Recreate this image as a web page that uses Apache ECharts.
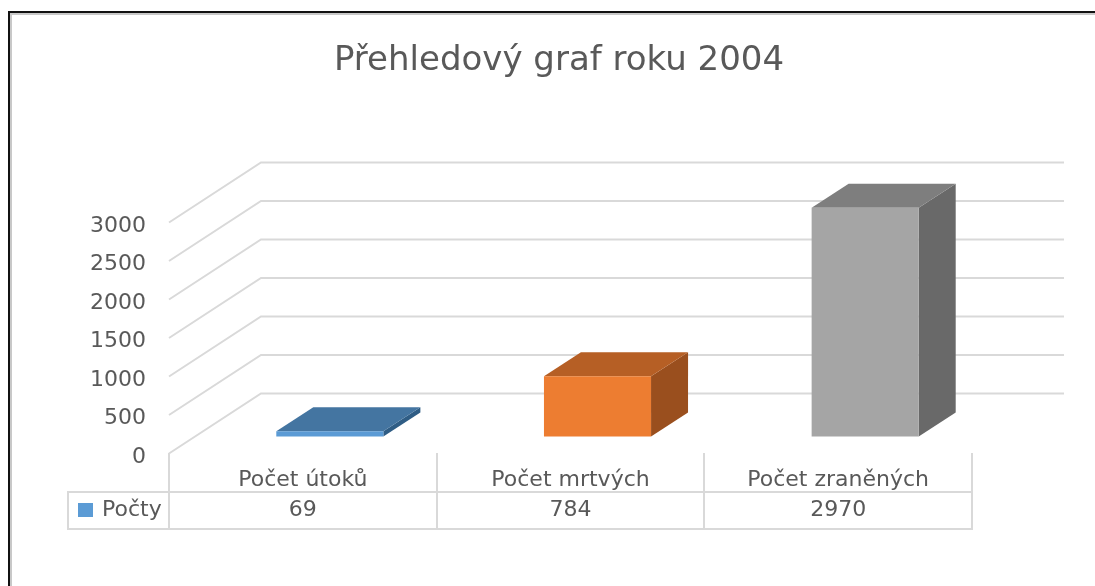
<!DOCTYPE html>
<html>
<head>
<meta charset="utf-8">
<style>
    html, body { margin: 0; padding: 0; background: #fff; }
    #chart { width: 1095px; height: 586px; }
</style>
<script src="https://cdn.jsdelivr.net/npm/echarts@6/dist/echarts.min.js"></script>
</head>
<body>
<div id="chart"></div>
<script>
const chartTitle = "Přehledový graf roku 2004";
const seriesName = "Počty";
const categories = ["Počet útoků", "Počet mrtvých", "Počet zraněných"];
const values = [69, 784, 2970];
const yTicks = [0, 500, 1000, 1500, 2000, 2500, 3000];

const textColor = "#595959";
const lineColor = "#d9d9d9";
const fontFamily = "'DejaVu Sans', sans-serif";
// front, top, side
const barColors = [
    ["#5b9bd5", "#4475a1", "#2f5d85"],
    ["#ed7d31", "#b65f25", "#9a4f1e"],
    ["#a5a5a5", "#7e7e7e", "#696969"]
];

// perspective offsets in px
const wallDepth = [92, -60];
const barOffset = [27, -17];
const barDepth = [37, -24];

function tableLine(x1, y1, x2, y2) {
    return {
        type: "line",
        silent: true,
        shape: { x1, y1, x2, y2 },
        style: { stroke: lineColor, lineWidth: 2 }
    };
}

const chart = echarts.init(document.getElementById("chart"));
chart.setOption({
    animation: false,
    title: {
        text: chartTitle,
        left: 554,
        top: 39,
        textAlign: "center",
        textStyle: { color: textColor, fontFamily, fontSize: 34, fontWeight: "normal" }
    },
    legend: {
        data: [seriesName],
        left: 78,
        top: 499,
        padding: 0,
        icon: "rect",
        itemWidth: 15,
        itemHeight: 14,
        itemGap: 0,
        selectedMode: false,
        textStyle: { color: textColor, fontFamily, fontSize: 22, padding: [0, 0, 0, 4] }
    },
    grid: { left: 169, top: 222.5, width: 803, height: 231 },
    xAxis: [
        {
            type: "category",
            data: categories,
            axisLine: { show: false },
            axisTick: { show: false },
            axisLabel: { interval: 0, margin: 16, color: textColor, fontFamily, fontSize: 22 }
        },
        {
            type: "category",
            position: "bottom",
            offset: 31,
            data: values.map(String),
            axisLine: { show: false },
            axisTick: { show: false },
            axisLabel: { interval: 0, margin: 15, color: textColor, fontFamily, fontSize: 22 }
        }
    ],
    yAxis: {
        type: "value",
        min: yTicks[0],
        max: yTicks[yTicks.length - 1],
        interval: 500,
        axisLine: { show: false },
        axisTick: { show: false },
        splitLine: { show: false },
        axisLabel: {
            margin: 23,
            formatter: function (value) {
                return "{tick|" + value + "}";
            },
            rich: {
                // reference labels sit a bit below their gridline
                tick: { color: textColor, fontFamily, fontSize: 22, padding: [7, 0, 0, 0] }
            }
        }
    },
    series: [
        {
            type: "custom",
            silent: true,
            data: yTicks,
            encode: { y: 0 },
            renderItem: function (params, api) {
                const grid = params.coordSys;
                const y = api.coord([0, api.value(0)])[1];
                return {
                    type: "polyline",
                    shape: {
                        points: [
                            [grid.x, y],
                            [grid.x + wallDepth[0], y + wallDepth[1]],
                            [grid.x + grid.width + wallDepth[0], y + wallDepth[1]]
                        ]
                    },
                    style: { fill: "none", stroke: lineColor, lineWidth: 2 }
                };
            }
        },
        {
            name: seriesName,
            type: "custom",
            silent: true,
            itemStyle: { color: barColors[0][0] },
            data: values.map((v, i) => [i, v]),
            encode: { x: 0, y: 1 },
            renderItem: function (params, api) {
                const colors = barColors[params.dataIndex];
                const top = api.coord([api.value(0), api.value(1)]);
                const base = api.coord([api.value(0), 0]);
                const width = api.size([1, 0])[0] * 0.4;
                const x0 = top[0] - width / 2 + barOffset[0];
                const x1 = x0 + width;
                const yt = top[1] + barOffset[1];
                const yb = base[1] + barOffset[1];
                const dx = barDepth[0];
                const dy = barDepth[1];
                return {
                    type: "group",
                    children: [
                        {
                            type: "polygon",
                            shape: { points: [[x1, yb], [x1, yt], [x1 + dx, yt + dy], [x1 + dx, yb + dy]] },
                            style: { fill: colors[2] }
                        },
                        {
                            type: "polygon",
                            shape: { points: [[x0, yt], [x1, yt], [x1 + dx, yt + dy], [x0 + dx, yt + dy]] },
                            style: { fill: colors[1] }
                        },
                        {
                            type: "rect",
                            shape: { x: x0, y: yt, width: width, height: yb - yt },
                            style: { fill: colors[0] }
                        }
                    ]
                };
            }
        }
    ],
    graphic: [
        // data table
        tableLine(68, 492, 972, 492),
        tableLine(68, 529, 972, 529),
        tableLine(68, 491, 68, 530),
        tableLine(169, 453, 169, 530),
        tableLine(437, 453, 437, 530),
        tableLine(704, 453, 704, 530),
        tableLine(972, 453, 972, 530),
        // screenshot frame
        { type: "polyline", silent: true, shape: { points: [[11, 586], [11, 14], [1095, 14]] }, style: { fill: "none", stroke: "#c8c8c8", lineWidth: 2 } },
        { type: "polyline", silent: true, shape: { points: [[9, 586], [9, 12], [1095, 12]] }, style: { fill: "none", stroke: "#111111", lineWidth: 2 } }
    ]
});
</script>
</body>
</html>
